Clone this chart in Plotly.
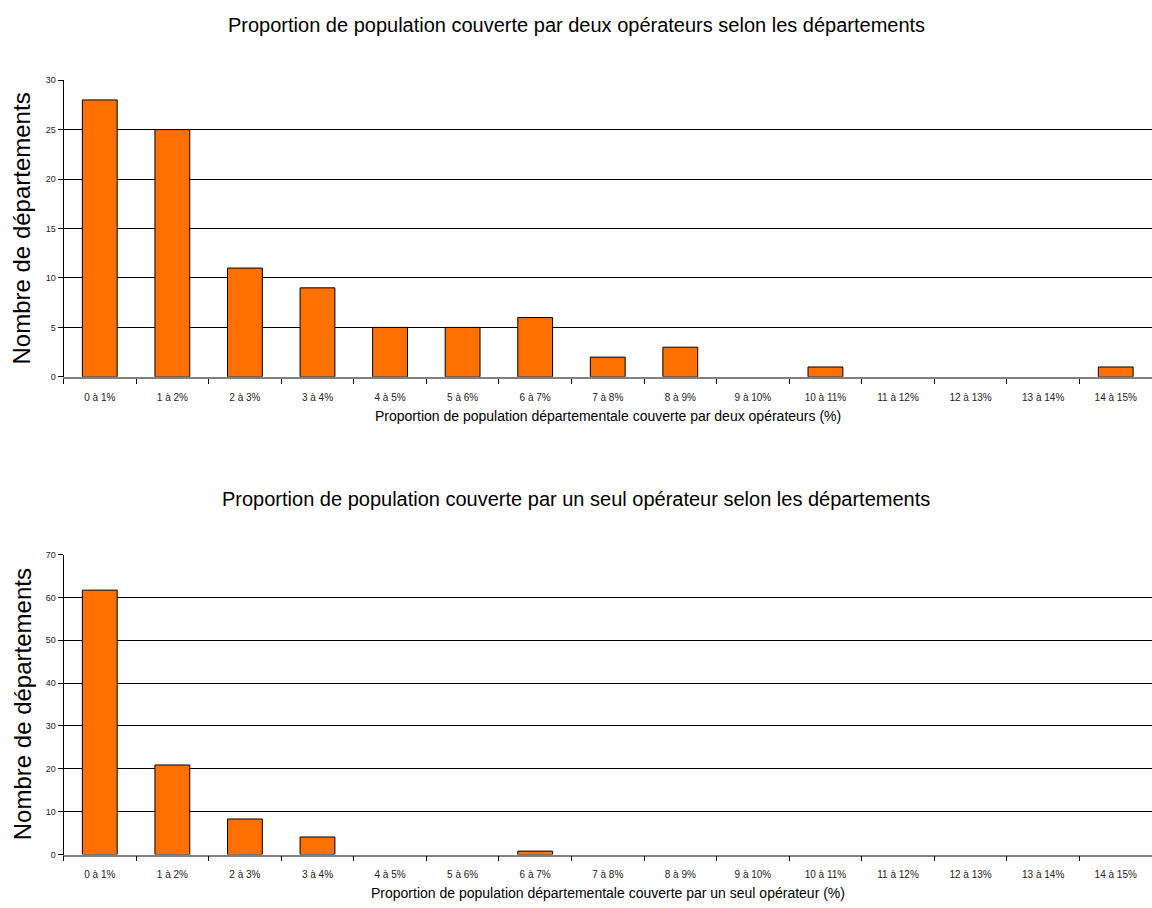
import plotly.graph_objects as go

# Tranches de proportion de population (%)
categories = ["0 à 1%", "1 à 2%", "2 à 3%", "3 à 4%", "4 à 5%", "5 à 6%", "6 à 7%",
              "7 à 8%", "8 à 9%", "9 à 10%", "10 à 11%", "11 à 12%", "12 à 13%",
              "13 à 14%", "14 à 15%"]

# Nombre de départements par tranche
deux_operateurs = [28, 25, 11, 9, 5, 5, 6, 2, 3, 0, 1, 0, 0, 0, 1]
un_seul_operateur = [61.7, 20.9, 8.3, 4.1, 0, 0, 0.8, 0, 0, 0, 0, 0, 0, 0, 0]

titre_haut = "Proportion de population couverte par deux opérateurs selon les départements"
titre_bas = "Proportion de population couverte par un seul opérateur selon les départements"
xtitre_haut = "Proportion de population départementale couverte par deux opérateurs (%)"
xtitre_bas = "Proportion de population départementale couverte par un seul opérateur (%)"
ytitre = "Nombre de départements"

W, H = 1152, 908
FONT = "Liberation Sans, Arial, sans-serif"
ORANGE = "#FF7000"

def py(px):
    return 1 - px / H

x_dom = [63.5 / W, 1.0]
top_dom = [py(376), py(76)]
bot_dom = [py(859), py(555.7)]

def bar(values, xa, ya):
    # empty classes get no outline so nothing is drawn for them
    widths = [1 if v > 0 else 0 for v in values]
    return go.Bar(x=categories, y=values, xaxis=xa, yaxis=ya,
                  marker=dict(color=ORANGE, line=dict(color="black", width=widths)),
                  hoverinfo="x+y")

fig = go.Figure()
fig.add_trace(bar(deux_operateurs, "x", "y"))
fig.add_trace(bar(un_seul_operateur, "x2", "y2"))

xaxis_common = dict(
    domain=x_dom, type="category", showgrid=False, showline=True,
    linecolor="#808080", linewidth=1.5, ticks="outside", tickson="boundaries",
    ticklen=5, tickcolor="black", tickwidth=1,
    tickfont=dict(family=FONT, size=10, color="#222"), ticklabelstandoff=10,
    fixedrange=True,
)
yaxis_common = dict(
    showgrid=True, gridcolor="black", gridwidth=1, showline=True,
    linecolor="black", linewidth=1, ticks="outside", ticklen=5,
    tickcolor="black", tickfont=dict(family=FONT, size=9, color="#222"),
    zeroline=False, fixedrange=True,
)

fig.update_layout(
    width=W, height=H,
    margin=dict(l=0, r=0, t=0, b=0),
    paper_bgcolor="white", plot_bgcolor="white",
    showlegend=False, bargap=0.52,
    font=dict(family=FONT, color="black"),
    xaxis=dict(anchor="y", **xaxis_common),
    xaxis2=dict(anchor="y2", **xaxis_common),
    yaxis=dict(domain=top_dom, anchor="x", range=[0, 30], dtick=5, **yaxis_common),
    yaxis2=dict(domain=bot_dom, anchor="x2", range=[0, 70], dtick=10, **yaxis_common),
)

ann = []
def text(x, y, s, size, angle=0):
    ann.append(dict(x=x / W, y=py(y), xref="paper", yref="paper", text=s,
                    showarrow=False, textangle=angle, xanchor="center", yanchor="middle",
                    font=dict(family=FONT, size=size, color="black")))

text(576, 20, titre_haut, 20)
text(576, 500, titre_bas, 20)
text(608, 416, xtitre_haut, 14)
text(608, 898, xtitre_bas, 14)
text(22, 226, ytitre, 24, -90)
text(22, 707, ytitre, 24, -90)
fig.update_layout(annotations=ann)

fig.write_html("out.html")
